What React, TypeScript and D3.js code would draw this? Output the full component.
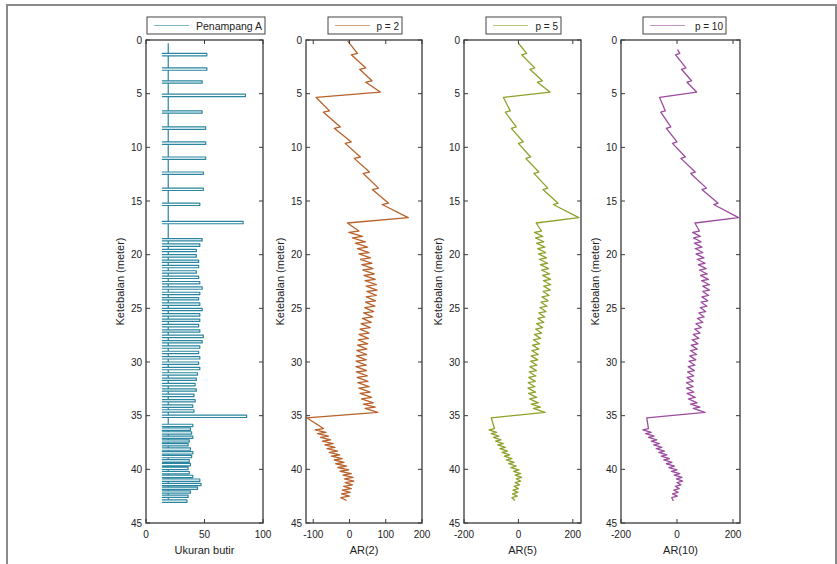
import React from 'react';
import * as d3 from 'd3';

// ---------- tick labels / texts ----------
const depthTicks = [0, 5, 10, 15, 20, 25, 30, 35, 40, 45];
const grainTicks = [0, 50, 100];
const ar2Ticks = [-100, 0, 100, 200];
const ar5Ticks = [-200, 0, 200];
const ar10Ticks = [-200, 0, 200];
const legendLabels = ['Penampang A', 'p = 2', 'p = 5', 'p = 10'];
const xLabels = ['Ukuran butir', 'AR(2)', 'AR(5)', 'AR(10)'];
const yLabel = 'Ketebalan (meter)';

// ---------- panel 1: grain size (spikes) ----------
const spikeDepths = [
  1.25, 2.6, 3.8, 5.05, 6.6, 8.1, 9.5, 10.9, 12.3, 13.8, 15.2, 16.9,
  18.5, 19.0, 19.5, 20.0, 20.5, 21.0, 21.5, 22.0, 22.5, 23.0, 23.5, 24.0, 24.5, 25.0, 25.5, 26.0,
  26.5, 27.0, 27.5, 28.0, 28.5, 29.0, 29.5, 30.0, 30.5, 31.0, 31.5, 32.0, 32.5, 33.0, 33.5, 34.0, 34.45,
  34.95,
  35.8, 36.15, 36.5, 36.9, 37.25, 37.6, 38.0, 38.35, 38.7, 39.1, 39.45, 39.8, 40.2, 40.55, 40.9, 41.3,
  41.65, 42.0, 42.4, 42.85,
];
const spikePeaks = [
  52, 52, 48, 85, 48, 51, 51, 51, 49, 49, 46, 83,
  48, 46, 43, 43, 45, 45, 43, 45, 46, 48, 46, 45, 46, 48, 46, 46,
  45, 46, 49, 48, 46, 45, 46, 45, 46, 44, 43, 42, 43, 41, 42, 40, 41,
  86,
  40, 38, 39, 40, 37, 36, 38, 40, 39, 37, 38, 36, 37, 40, 46, 47,
  44, 38, 36, 35,
];
const grainBase = 19;
const grainLow = 14;
const spikeThickness = 0.22;
const grainStart = 0.3;
const grainEnd = 43.1;

// ---------- AR curves: shared tooth depths ----------
const toothDepths = [
  1.25, 2.6, 3.8, 4.85, 6.6, 8.1, 9.5, 10.9, 12.3, 13.8, 15.2, 16.55,
  17.8, 18.3, 18.8, 19.3, 19.8, 20.3, 20.8, 21.3, 21.8, 22.3, 22.8, 23.3, 23.8, 24.3, 24.8, 25.3,
  25.8, 26.3, 26.8, 27.3, 27.8, 28.3, 28.8, 29.3, 29.8, 30.3, 30.8, 31.3, 31.8, 32.3, 32.8, 33.3,
  33.8, 34.2, 34.7,
  36.2, 36.55, 36.9, 37.25, 37.6, 37.95, 38.3, 38.65, 39.0, 39.35, 39.7, 40.05, 40.4, 40.75, 41.1,
  41.45, 41.8, 42.15, 42.5,
];
const bigTeeth = [4.85, 16.55, 34.7];

// AR(2)
const ar2Start = [0.1, -5];
const ar2End = [42.9, -8];
const ar2Base = [
  22, 45, 62, 85, -55, -25, 5, 30, 55, 80, 108, 162,
  26, 36, 44, 50, 54, 58, 62, 65, 68, 71, 74, 76, 74, 72, 70, 67,
  64, 60, 57, 54, 52, 50, 48, 47, 46, 46, 47, 49, 51, 54, 57, 61,
  66, 71, 78,
  -72, -65, -58, -52, -45, -40, -33, -27, -20, -15, -8, -2, 5, 10, 12,
  8, 5, 2, 0,
];
const ar2Tip = [
  5, 28, 45, -92, -72, -42, -12, 13, 38, 63, 90, -6,
  -2, 8, 16, 22, 26, 30, 34, 37, 40, 43, 46, 48, 46, 44, 42, 39,
  36, 32, 29, 26, 24, 22, 20, 19, 18, 18, 19, 21, 23, 26, 29, 33,
  38, 43, -118,
  -95, -88, -80, -75, -68, -62, -56, -50, -42, -38, -32, -26, -18, -14, -12,
  -16, -20, -22, -24,
];

// AR(5)
const ar5Start = [0.3, 0];
const ar5End = [42.9, -13];
const ar5Base = [
  30, 60, 88, 116, -30, -8, 18, 45, 75, 108, 146, 222,
  85, 89, 93, 97, 100, 103, 107, 111, 115, 118, 119, 117, 113, 109, 105, 101,
  97, 93, 89, 85, 81, 78, 75, 73, 71, 68, 66, 64, 62, 61, 63, 67,
  73, 81, 98,
  -88, -80, -72, -64, -56, -48, -40, -32, -24, -16, -8, 2, 8, 12, 8,
  4, 0, -2, -4,
];
const ar5Tip = [
  12, 42, 70, -55, -48, -26, 0, 27, 57, 90, 128, 65,
  59, 63, 67, 71, 74, 77, 81, 85, 89, 92, 93, 91, 87, 83, 79, 75,
  71, 67, 63, 59, 55, 52, 49, 47, 45, 42, 40, 38, 36, 35, 37, 41,
  47, 55, -100,
  -108, -100, -92, -84, -76, -68, -60, -52, -44, -36, -28, -18, -12, -8, -12,
  -16, -20, -22, -24,
];

// AR(10)
const ar10Start = [0.9, 2];
const ar10End = [42.95, -13];
const ar10Base = [
  10, 32, 52, 70, -42, -22, 0, 30, 65, 105, 147, 220,
  80, 83, 86, 89, 92, 96, 100, 104, 108, 112, 116, 116, 113, 110, 107, 102,
  97, 92, 87, 82, 78, 75, 72, 70, 67, 64, 62, 60, 58, 58, 60, 65,
  72, 82, 100,
  -102, -92, -82, -72, -63, -54, -45, -36, -27, -18, -9, 0, 10, 18, 20,
  14, 8, 4, 1,
];
const ar10Tip = [
  -5, 16, 36, -62, -58, -38, -16, 14, 49, 89, 131, 64,
  56, 59, 62, 65, 68, 72, 76, 80, 84, 88, 92, 92, 89, 86, 83, 78,
  73, 68, 63, 58, 54, 51, 48, 46, 43, 40, 38, 36, 34, 34, 36, 41,
  48, 58, -108,
  -122, -112, -102, -92, -83, -74, -65, -56, -47, -38, -29, -20, -10, -2, 0,
  -6, -12, -16, -19,
];

// ---------- builders ----------
type Pt = [number, number]; // [depth, value]

function grainPoints(): Pt[] {
  const pts: Pt[] = [[grainStart, grainBase]];
  spikeDepths.forEach((d, i) => {
    const p = spikePeaks[i];
    const d2 = d + spikeThickness;
    pts.push([d, grainBase], [d, grainLow], [d, p], [d2, p], [d2, grainLow], [d2, grainBase]);
  });
  pts.push([grainEnd, grainBase]);
  return pts;
}

function arPoints(start: number[], base: number[], tip: number[], end: number[]): Pt[] {
  const pts: Pt[] = [[start[0], start[1]]];
  toothDepths.forEach((d, i) => {
    const gap = bigTeeth.includes(d) ? 0.5 : 0.13;
    pts.push([d, base[i]], [d + gap, tip[i]]);
  });
  pts.push([end[0], end[1]]);
  return pts;
}

const TOP = 40;
const BOTTOM = 523;

const panels = [
  { left: 146, right: 263, domain: [0, 100], ticks: grainTicks, color: '#2a86a0', pts: grainPoints(), legendW: 118, legendDx: 1.5, sw: 1.2 },
  { left: 306, right: 422, domain: [-120, 200], ticks: ar2Ticks, color: '#b8612a', pts: arPoints(ar2Start, ar2Base, ar2Tip, ar2End), legendW: 74, legendDx: 1, sw: 1.3 },
  { left: 464, right: 581, domain: [-200, 230], ticks: ar5Ticks, color: '#8ea12a', pts: arPoints(ar5Start, ar5Base, ar5Tip, ar5End), legendW: 75, legendDx: 1, sw: 1.3 },
  { left: 621, right: 740, domain: [-200, 225], ticks: ar10Ticks, color: '#9d4ba0', pts: arPoints(ar10Start, ar10Base, ar10Tip, ar10End), legendW: 83, legendDx: 4, sw: 1.3 },
];

const FONT = '"Liberation Sans", Arial, Helvetica, sans-serif';

function Panel({ p, idx }: { p: typeof panels[number]; idx: number }) {
  const x = d3.scaleLinear().domain(p.domain).range([p.left, p.right]);
  const y = d3.scaleLinear().domain([0, 45]).range([TOP, BOTTOM]);
  const line = d3.line<Pt>().x(d => x(d[1])).y(d => y(d[0]));
  const axisColor = '#3a3a3a';
  const cx = (p.left + p.right) / 2 + p.legendDx;
  const lx = cx - p.legendW / 2;
  const tl = 4;
  return (
    <g>
      <defs>
        <clipPath id={`clip${idx}`}>
          <rect x={p.left} y={TOP} width={p.right - p.left} height={BOTTOM - TOP} />
        </clipPath>
      </defs>
      <path d={line(p.pts) || ''} fill="none" stroke={p.color} strokeWidth={p.sw} strokeLinejoin="round" clipPath={`url(#clip${idx})`} />
      {depthTicks.map(t => (
        <g key={'y' + t}>
          <line x1={p.left} x2={p.left + tl} y1={y(t)} y2={y(t)} stroke={axisColor} strokeWidth={1} />
          <line x1={p.right - tl} x2={p.right} y1={y(t)} y2={y(t)} stroke={axisColor} strokeWidth={1} />
          <text x={p.left - 4} y={y(t)} dy="0.35em" textAnchor="end" fontSize={10} fontFamily={FONT} fill="#222">{t}</text>
        </g>
      ))}
      {p.ticks.map(t => (
        <g key={'x' + t}>
          <line x1={x(t)} x2={x(t)} y1={BOTTOM} y2={BOTTOM - tl} stroke={axisColor} strokeWidth={1} />
          <line x1={x(t)} x2={x(t)} y1={TOP} y2={TOP + tl} stroke={axisColor} strokeWidth={1} />
          <text x={x(t)} y={BOTTOM + 14.5} textAnchor="middle" fontSize={10} fontFamily={FONT} fill="#222">{t}</text>
        </g>
      ))}
      <rect x={p.left} y={TOP} width={p.right - p.left} height={BOTTOM - TOP} fill="none" stroke={axisColor} strokeWidth={1.3} />
      <text x={(p.left + p.right) / 2} y={BOTTOM + 30.5} textAnchor="middle" fontSize={11} fontFamily={FONT} fill="#222">{xLabels[idx]}</text>
      <text transform={`translate(${p.left - 22},${(TOP + BOTTOM) / 2}) rotate(-90)`} textAnchor="middle" fontSize={11} fontFamily={FONT} fill="#222">{yLabel}</text>
      <rect x={lx} y={17} width={p.legendW} height={17} fill="#fff" stroke="#444" strokeWidth={1} />
      <line x1={lx + 7} x2={lx + 42} y1={25.5} y2={25.5} stroke={p.color} strokeWidth={1.2} strokeOpacity={0.6} />
      <text x={lx + p.legendW - 3} y={29.5} textAnchor="end" fontSize={idx === 0 ? 10.5 : 10} fontFamily={FONT} fill="#222">{legendLabels[idx]}</text>
    </g>
  );
}

export default function App() {
  return (
    <svg width={837} height={564} style={{ position: 'absolute', left: 0, top: 0, background: '#fff' }}>
      <rect x={0} y={0} width={837} height={564} fill="#fff" />
      <rect x={7} y={5} width={829} height={620} fill="none" stroke="#8a8a8a" strokeWidth={2} />
      {panels.map((p, i) => <Panel key={i} p={p} idx={i} />)}
    </svg>
  );
}
